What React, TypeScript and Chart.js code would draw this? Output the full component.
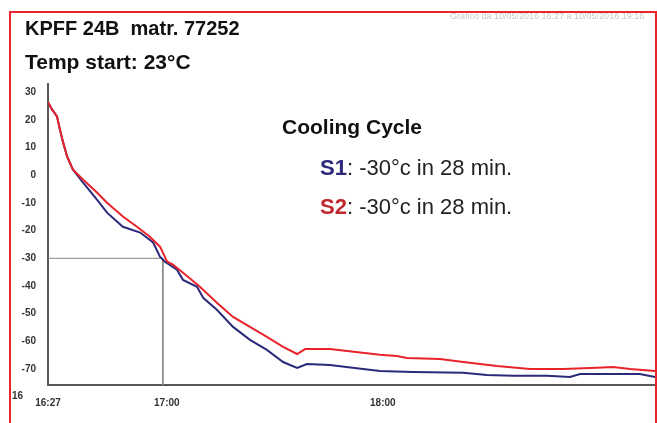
import { useEffect, useRef } from 'react';
import { Chart, registerables } from 'chart.js';

Chart.register(...registerables);

// minutes since 16:27
const s2Minutes = [0, 1.1, 2.5, 3.3, 4.2, 5.3, 6.9, 9.7, 13.6, 16.4, 20.8, 24.7, 28.3, 31.1, 33.1, 34.7, 37.5, 42.2, 46.9, 51.4, 56.1, 60.8, 65.3, 69.2, 71.4, 78.3, 83.1, 92.2, 96.9, 99.7, 108.9, 115.3, 124.7, 133.9, 143.1, 152.5, 156.9, 161.7, 168.6];
const s2Temps = [26.4, 23.8, 21.3, 16.6, 11.9, 6.8, 2.1, -1.5, -6.2, -9.9, -14.9, -18.6, -22.2, -25.8, -31.2, -32.3, -35.2, -40.3, -46.1, -51.2, -54.8, -58.4, -62.0, -64.6, -62.8, -62.8, -63.5, -64.9, -65.3, -66.0, -66.4, -67.5, -68.9, -70.0, -70.0, -69.6, -69.3, -70.0, -70.7];

const s1Minutes = [0, 1.1, 2.5, 3.3, 4.2, 5.3, 6.9, 9.7, 13.6, 16.4, 20.8, 25.6, 29.2, 31.1, 32.5, 35.8, 37.5, 41.4, 43.1, 46.9, 51.4, 56.1, 60.8, 65.3, 69.2, 71.9, 78.3, 87.5, 92.2, 101.4, 115.3, 121.9, 129.2, 138.6, 145.0, 147.8, 156.9, 164.4, 168.6];
const s1Temps = [26.4, 23.8, 21.3, 16.6, 11.9, 6.8, 2.1, -2.6, -8.8, -13.5, -18.6, -20.7, -24.3, -29.4, -31.2, -34.1, -37.8, -40.3, -44.3, -48.6, -54.8, -59.5, -63.1, -67.5, -69.6, -68.2, -68.6, -70.0, -70.7, -71.1, -71.4, -72.2, -72.5, -72.5, -72.9, -71.8, -71.8, -71.8, -72.9];

const markerMinute = 31.9;
const markerTemp = -30;

const yTickValues = [30, 20, 10, 0, -10, -20, -30, -40, -50, -60, -70];
const xTickValues = [0, 33, 93];
const xTickLabels = ['16:27', '17:00', '18:00'];

const Y_MIN = -75.8;
const Y_MAX = 33;
const X_MIN = 0;
const X_MAX = 168.6;

const FONT = '"Liberation Sans", Arial, sans-serif';

export default function App() {
  const ref = useRef<HTMLCanvasElement>(null);

  useEffect(() => {
    const chart = new Chart(ref.current!, {
      type: 'line',
      data: {
        datasets: [
          {
            label: 'S2',
            data: s2Minutes.map((m, i) => ({ x: m, y: s2Temps[i] })),
            borderColor: '#e8232a',
            borderWidth: 2,
            pointRadius: 0,
            tension: 0,
            order: 0,
          },
          {
            label: 'S1',
            data: s1Minutes.map((m, i) => ({ x: m, y: s1Temps[i] })),
            borderColor: '#2b2a7a',
            borderWidth: 2,
            pointRadius: 0,
            tension: 0,
            order: 1,
          },
          {
            label: 'marker',
            data: [
              { x: X_MIN, y: markerTemp },
              { x: markerMinute, y: markerTemp },
              { x: markerMinute, y: Y_MIN },
            ],
            borderColor: '#8a8580',
            borderWidth: 1,
            pointRadius: 0,
            tension: 0,
            order: 2,
          },
        ],
      },
      options: {
        responsive: false,
        animation: false,
        events: [],
        layout: { padding: { left: 10, top: 84, right: 2, bottom: 8 } },
        plugins: { legend: { display: false }, tooltip: { enabled: false } },
        scales: {
          x: {
            type: 'linear',
            min: X_MIN,
            max: X_MAX,
            grid: { display: false },
            border: { display: true, color: '#5a5652', width: 2 },
            afterBuildTicks: (s: any) => {
              s.ticks = xTickValues.map((v) => ({ value: v }));
            },
            afterFit: (s: any) => {
              s.height = 30;
            },
            ticks: {
              autoSkip: false,
              maxRotation: 0,
              padding: 4,
              color: '#333',
              font: { family: FONT, size: 10, weight: 'bold' },
              callback: (v: any) => {
                const i = xTickValues.indexOf(Number(v));
                return i >= 0 ? xTickLabels[i] : '';
              },
            },
          },
          y: {
            type: 'linear',
            min: Y_MIN,
            max: Y_MAX,
            grid: { display: false },
            border: { display: true, color: '#5a5652', width: 2 },
            afterBuildTicks: (s: any) => {
              s.ticks = yTickValues.map((v) => ({ value: v }));
            },
            afterFit: (s: any) => {
              s.width = 38;
            },
            ticks: {
              autoSkip: false,
              padding: 4,
              color: '#333',
              font: { family: FONT, size: 10, weight: 'bold' },
            },
          },
        },
      },
    });
    return () => chart.destroy();
  }, []);

  const abs = (o: any) => ({ position: 'absolute' as const, whiteSpace: 'nowrap' as const, fontFamily: FONT, ...o });

  return (
    <div style={{ position: 'fixed', left: 0, top: 0, width: 657, height: 423, background: '#fff', overflow: 'hidden' }}>
      <canvas ref={ref} width={657} height={423} style={{ position: 'absolute', left: 0, top: 0, width: 657, height: 423 }} />
      <div style={{ position: 'absolute', left: 9, top: 11, width: 644, height: 430, border: '2px solid #e8262c', overflow: 'hidden' }}>
        <div style={abs({ left: 439, top: -2, fontSize: 9, color: '#c8c8c8' })}>Grafico da 10/05/2016 16:27 a 10/05/2016 19:16</div>
      </div>
      <div style={abs({ left: 25, top: 16, fontSize: 20, fontWeight: 'bold', color: '#111', lineHeight: '24px' })}>KPFF 24B&nbsp; matr. 77252</div>
      <div style={abs({ left: 25, top: 50, fontSize: 21, fontWeight: 'bold', color: '#111', lineHeight: '24px' })}>Temp start: 23°C</div>
      <div style={abs({ left: 282, top: 114, fontSize: 21, fontWeight: 'bold', color: '#111', lineHeight: '26px' })}>Cooling Cycle</div>
      <div style={abs({ left: 320, top: 155, fontSize: 22, color: '#222', lineHeight: '26px' })}>
        <span style={{ fontWeight: 'bold', color: '#2b2a7a' }}>S1</span>: -30°c in 28 min.
      </div>
      <div style={abs({ left: 320, top: 194, fontSize: 22, color: '#222', lineHeight: '26px' })}>
        <span style={{ fontWeight: 'bold', color: '#c0282d' }}>S2</span>: -30°c in 28 min.
      </div>
      <div style={abs({ left: 12, top: 390, fontSize: 10, fontWeight: 'bold', color: '#333' })}>16</div>
    </div>
  );
}
